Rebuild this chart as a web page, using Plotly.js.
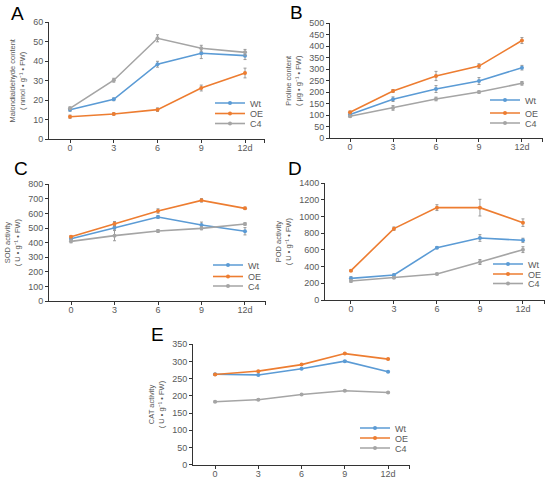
<!DOCTYPE html>
<html>
<head>
<meta charset="utf-8">
<script src="https://cdn.plot.ly/plotly-3.0.1.min.js"></script>
<style>html,body{margin:0;padding:0;background:#fff}#chart{width:550px;height:481px}</style>
</head>
<body>
<div id="chart"></div>
<script>
// ---- data ----
const days = [0, 3, 6, 9, 12];
const dayLabels = ['0', '3', '6', '9', '12d'];
const seriesNames = ['Wt', 'OE', 'C4'];

// A: Malondialdehyde
const mdaWt = [15.2, 20.5, 38.5, 44.1, 42.9];
const mdaWtErr = [0.8, 0.7, 1.5, 2.7, 2.0];
const mdaOE = [11.6, 13.0, 15.2, 26.3, 34.0];
const mdaOEErr = [0.8, 0.6, 0.9, 1.5, 2.5];
const mdaC4 = [15.9, 30.3, 51.8, 46.7, 44.6];
const mdaC4Err = [0.7, 1.0, 1.8, 1.5, 1.5];

// B: Proline
const proWt = [104, 170, 214, 249, 307];
const proWtErr = [6, 10, 15, 15, 10];
const proOE = [113, 206, 271, 314, 425];
const proOEErr = [5, 6, 20, 10, 13];
const proC4 = [96, 132, 171, 201, 239];
const proC4Err = [5, 10, 8, 5, 8];

// C: SOD
const sodWt = [427, 503, 576, 521, 478];
const sodWtErr = [10, 15, 10, 20, 25];
const sodOE = [441, 530, 617, 690, 635];
const sodOEErr = [8, 15, 15, 12, 8];
const sodC4 = [409, 448, 480, 498, 528];
const sodC4Err = [10, 35, 10, 10, 8];

// D: POD
const podWt = [260, 300, 628, 744, 716];
const podWtErr = [20, 12, 12, 40, 25];
const podOE = [352, 856, 1108, 1108, 928];
const podOEErr = [10, 20, 35, 100, 45];
const podC4 = [228, 268, 312, 456, 604];
const podC4Err = [15, 10, 10, 30, 35];

// E: CAT
const catWt = [263, 261, 279, 301, 270];
const catWtErr = [2, 2, 2, 2, 2];
const catOE = [262, 272, 291, 323, 307];
const catOEErr = [2, 2, 2, 2, 2];
const catC4 = [183, 189, 204, 215, 210];
const catC4Err = [2, 2, 2, 2, 2];

const panelLetters = ['A', 'B', 'C', 'D', 'E'];
const yTitles = [
  'Malondialdehyde content<br>( nmol • g⁻¹ • FW)',
  'Proline content<br>( μg • g⁻¹ • FW)',
  'SOD activity<br>( U • g⁻¹ • FW)',
  'POD activity<br>( U • g⁻¹ • FW)',
  'CAT activity<br>( U • g⁻¹ • FW)'
];

// ---- style ----
const colors = ['#5b9bd5', '#ed7d31', '#a5a5a5'];
const FONT = 'Liberation Sans, Arial, sans-serif';
const W = 550, H = 481;

const panels = [
  {vals: [mdaWt, mdaOE, mdaC4], errs: [mdaWtErr, mdaOEErr, mdaC4Err], yr: [0, 60], dt: 10,
   xd: [49, 265], xr: [-1.44, 13.37], yd: [139.3, 22.3], legX: 250, legY: [103, 113.5, 123.5], letter: [9, 13.5]},
  {vals: [proWt, proOE, proC4], errs: [proWtErr, proOEErr, proC4Err], yr: [0, 500], dt: 50,
   xd: [330, 543], xr: [-1.40, 13.47], yd: [138.3, 23.3], legX: 525, legY: [100, 113, 123], letter: [288, 13]},
  {vals: [sodWt, sodOE, sodC4], errs: [sodWtErr, sodOEErr, sodC4Err], yr: [0, 800], dt: 100,
   xd: [49, 266], xr: [-1.52, 13.45], yd: [301, 184.3], legX: 248, legY: [265, 276.5, 286], letter: [12, 168]},
  {vals: [podWt, podOE, podC4], errs: [podWtErr, podOEErr, podC4Err], yr: [0, 1400], dt: 200,
   xd: [325, 545], xr: [-1.81, 13.54], yd: [300, 183.3], legX: 528, legY: [264, 274, 283.5], letter: [286, 168]},
  {vals: [catWt, catOE, catC4], errs: [catWtErr, catOEErr, catC4Err], yr: [0, 350], dt: 50,
   xd: [193, 410], xr: [-1.53, 13.52], yd: [464.7, 344.3], legX: 395, legY: [428, 438, 448], letter: [149, 334.5]}
];

const data = [];
const layout = {
  width: W, height: H,
  margin: {l: 0, r: 0, t: 0, b: 0},
  paper_bgcolor: '#fff', plot_bgcolor: 'rgba(0,0,0,0)',
  font: {family: FONT, color: '#595959', size: 9},
  showlegend: true,
  annotations: []
};

let legIdx = 0;
panels.forEach((p, i) => {
  const n = i + 1;
  const xa = 'x' + (n === 1 ? '' : n), ya = 'y' + (n === 1 ? '' : n);
  const xk = 'xaxis' + (n === 1 ? '' : n), yk = 'yaxis' + (n === 1 ? '' : n);
  p.vals.forEach((v, s) => {
    legIdx += 1;
    const lk = 'legend' + (legIdx === 1 ? '' : legIdx);
    data.push({
      type: 'scatter', mode: 'lines+markers',
      x: days, y: v, name: seriesNames[s],
      xaxis: xa, yaxis: ya, legend: lk,
      line: {color: colors[s], width: 1.6},
      marker: {color: colors[s], size: 4, symbol: 'circle'},
      error_y: {type: 'data', array: p.errs[s], visible: true, color: '#9a9a9a', thickness: 1, width: 1.5}
    });
    layout[lk] = {
      x: (p.legX - 40) / W, xanchor: 'left',
      y: 1 - p.legY[s] / H, yanchor: 'middle',
      bgcolor: 'rgba(0,0,0,0)', borderwidth: 0,
      font: {size: 9, color: '#595959', family: FONT},
      itemwidth: 30
    };
  });
  const tv = days.concat([p.xr[1] - 0.02]);
  const tt = dayLabels.concat(['']);
  layout[xk] = {
    domain: [p.xd[0] / W, p.xd[1] / W], range: p.xr, anchor: ya,
    tickvals: tv, ticktext: tt,
    showline: true, linecolor: '#333', linewidth: 1,
    ticks: 'outside', ticklen: 3, tickcolor: '#333', tickwidth: 1,
    ticklabelstandoff: -3,
    showgrid: false, zeroline: false,
    tickfont: {size: 9, color: '#595959', family: FONT}, fixedrange: true
  };
  layout[yk] = {
    domain: [1 - p.yd[0] / H, 1 - p.yd[1] / H], range: p.yr, anchor: xa,
    dtick: p.dt, tick0: 0,
    showline: true, linecolor: '#333', linewidth: 1,
    ticks: 'outside', ticklen: 3, tickcolor: '#333', tickwidth: 1,
    showgrid: false, zeroline: false,
    tickfont: {size: 9, color: '#595959', family: FONT},
    title: {text: yTitles[i], font: {size: 7.5, color: '#595959', family: FONT}, standoff: 6},
    fixedrange: true
  };
  layout.annotations.push({
    text: panelLetters[i], xref: 'paper', yref: 'paper',
    x: p.letter[0] / W, y: 1 - p.letter[1] / H, xanchor: 'left', yanchor: 'middle',
    showarrow: false, font: {size: 19, color: '#000', family: FONT}
  });
});

Plotly.newPlot('chart', data, layout, {displayModeBar: false, staticPlot: true});
</script>
</body>
</html>
